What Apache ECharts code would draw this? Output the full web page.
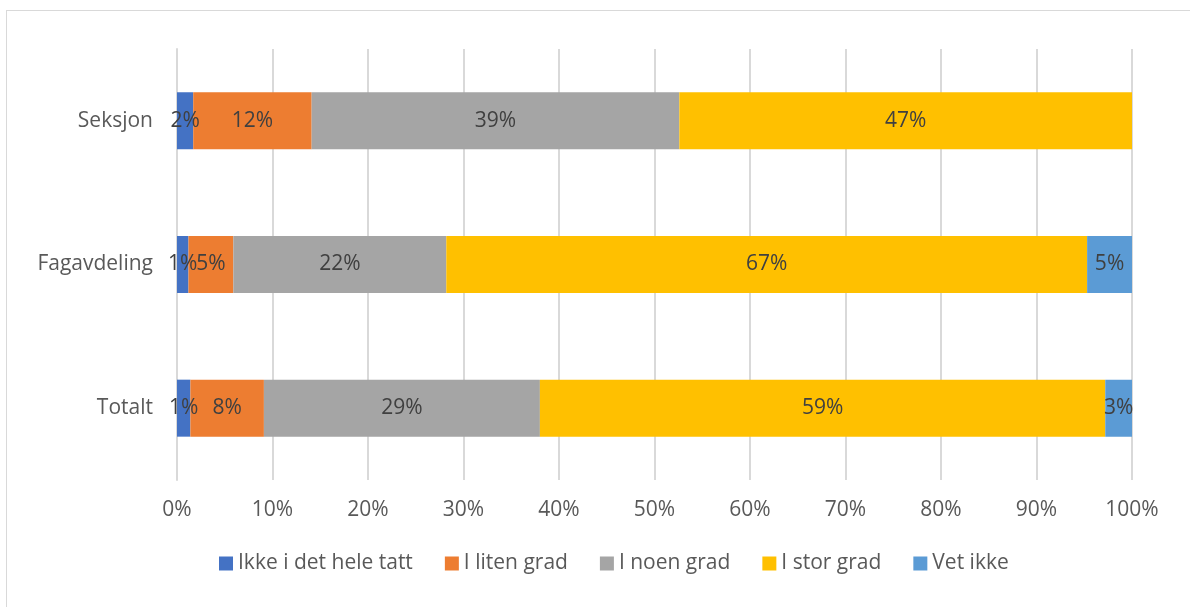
<!DOCTYPE html>
<html>
<head>
<meta charset="utf-8">
<script src="https://cdn.jsdelivr.net/npm/echarts@6/dist/echarts.min.js"></script>
<style>
  html, body { margin: 0; padding: 0; background: #fff; }
  #frame { position: absolute; left: 6px; top: 10px; width: 1200px; height: 620px; border: 1px solid #D9D9D9; box-sizing: border-box; }
  #chart { position: absolute; left: 0; top: 0; width: 1190px; height: 607px; }
</style>
</head>
<body>
<div id="frame"></div>
<div id="chart"></div>
<script>
const categories = ['Totalt', 'Fagavdeling', 'Seksjon'];
const seriesNames = ['Ikke i det hele tatt', 'I liten grad', 'I noen grad', 'I stor grad', 'Vet ikke'];
const ikkeIDetHeleTatt = [1.4, 1.2, 1.7];
const iLitenGrad = [7.7, 4.7, 12.4];
const iNoenGrad = [28.9, 22.3, 38.5];
const iStorGrad = [59.2, 67.1, 47.4];
const vetIkke = [2.8, 4.7, 0];
const xTicks = [0, 10, 20, 30, 40, 50, 60, 70, 80, 90, 100];

const colors = ['#4472C4', '#ED7D31', '#A5A5A5', '#FFC000', '#5B9BD5'];
const allData = [ikkeIDetHeleTatt, iLitenGrad, iNoenGrad, iStorGrad, vetIkke];
const font = 'Open Sans';
const fs = 21;

const chart = echarts.init(document.getElementById('chart'));
chart.setOption({
  animation: false,
  textStyle: { fontFamily: font },
  grid: { left: 177, right: 58, top: 49, bottom: 127, containLabel: false },
  legend: {
    top: 548,
    left: 214,
    itemWidth: 14,
    itemHeight: 14,
    itemGap: 32,
    icon: 'rect',
    textStyle: { fontFamily: font, fontSize: fs, color: '#595959' },
    data: seriesNames
  },
  xAxis: {
    type: 'value',
    min: 0,
    max: 100,
    interval: 10,
    axisLine: { show: false },
    axisTick: { show: false },
    splitLine: { lineStyle: { color: '#D9D9D9', width: 2 } },
    axisLabel: {
      fontFamily: font, fontSize: fs, color: '#595959', margin: 20,
      formatter: v => xTicks.includes(v) ? v + '%' : ''
    }
  },
  yAxis: {
    type: 'category',
    data: categories,
    axisLine: { show: true, lineStyle: { color: '#D9D9D9', width: 2 } },
    axisTick: { show: false },
    axisLabel: { fontFamily: font, fontSize: fs, color: '#595959', margin: 24 }
  },
  series: seriesNames.map((name, i) => ({
    name: name,
    type: 'bar',
    stack: 'total',
    barWidth: 57,
    itemStyle: { color: colors[i] },
    label: {
      show: true,
      position: 'inside',
      fontFamily: font,
      fontSize: fs,
      color: '#404040',
      formatter: p => p.value > 0 ? Math.round(p.value) + '%' : ''
    },
    data: allData[i]
  }))
});
</script>
</body>
</html>
